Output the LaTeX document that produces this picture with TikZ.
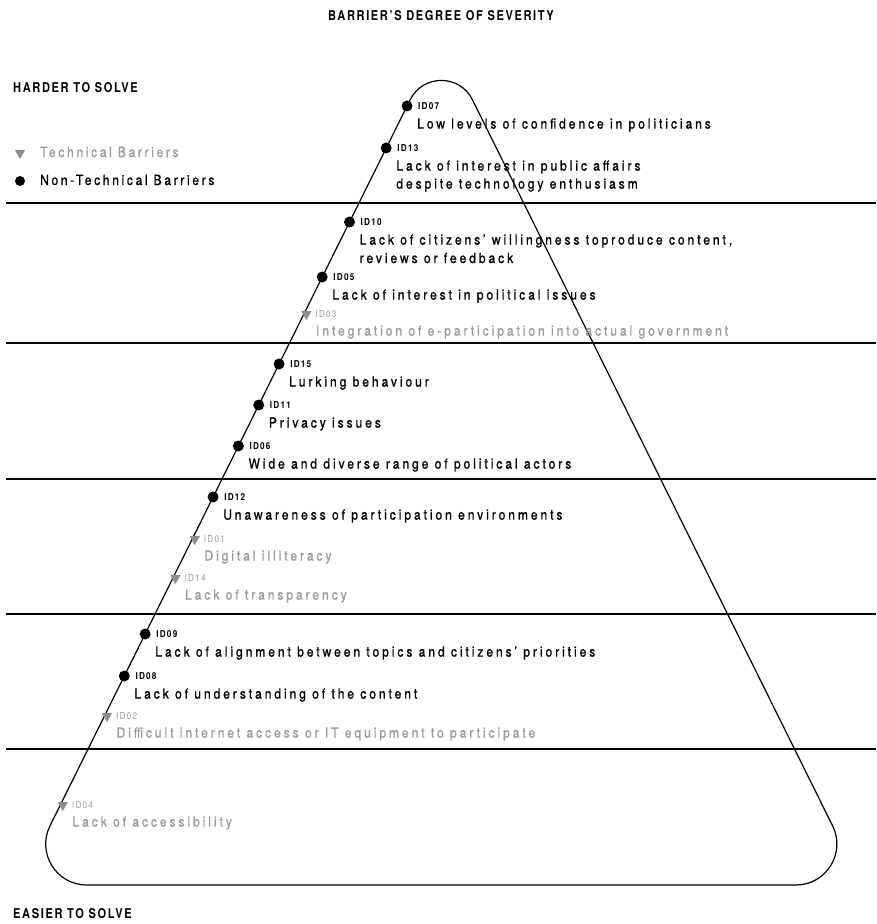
\documentclass[tikz,border=0pt]{standalone}
\usepackage{fontspec}
\usetikzlibrary{shapes.geometric}
\newfontfamily\cond{TeX Gyre Heros}[FakeStretch=0.86,LetterSpace=21,FakeBold=1.0]
\newfontfamily\condl{TeX Gyre Heros}[FakeStretch=0.86,LetterSpace=19,FakeBold=0.8]
\newfontfamily\condb{TeX Gyre Heros}[FakeStretch=0.82,LetterSpace=12]
\newfontfamily\condi{TeX Gyre Heros}[FakeStretch=0.86,LetterSpace=13]
\definecolor{tgray}{HTML}{9A9A9A}
\definecolor{mgray}{HTML}{8E8E8E}
\begin{document}
\begin{tikzpicture}[x=1pt,y=-1pt,
  outline/.style={draw=black,line width=1.2pt,line join=round},
  band/.style={draw=black,line width=1.3pt},
  ndot/.style={circle,fill=black,inner sep=0pt,minimum size=11pt},
  tmark/.style={regular polygon,regular polygon sides=3,shape border rotate=180,fill=mgray,inner sep=0pt,minimum size=12pt},
  idlab/.style={anchor=west,inner sep=0pt,font=\condi\bfseries\fontsize{9.5}{10}\selectfont},
  desc/.style={anchor=west,inner sep=0pt,font=\cond\fontsize{14}{16}\selectfont},
  head/.style={inner sep=0pt,font=\condb\bfseries\fontsize{13.5}{15}\selectfont},
  leg/.style={anchor=west,inner sep=0pt,font=\condl\fontsize{14}{16}\selectfont}
]
\useasboundingbox (0,0) rectangle (876,924);

% horizontal bands
\foreach \yy in {203,343,479,614,749} \draw[band] (6,\yy) -- (876,\yy);

% rounded triangle
\draw[outline] (50.0,825.8) -- (410.2,99.7)
  .. controls (423.0,74.0) and (459.6,74.0) .. (472.4,99.7)
  -- (832.6,825.8)
  .. controls (846.1,853.0) and (826.3,885) .. (795.9,885)
  -- (86.7,885)
  .. controls (56.3,885) and (36.5,853.0) .. cycle;

% headings
\node[head] (title) at (441,16) {BARRIER’S DEGREE OF SEVERITY};
\node[head,anchor=west] (harder) at (13,88) {HARDER TO SOLVE};
\node[head,anchor=west] (easier) at (13,914) {EASIER TO SOLVE};

% legend
\node[tmark] (legt) at (20,153) {};
\node[leg,text=tgray] (legtt) at (40,152) {Technical Barriers};
\node[ndot,minimum size=10pt] (legn) at (20,181) {};
\node[leg] (legnt) at (40,180) {Non-Technical Barriers};

% barriers
\foreach \n/\yy/\kind/\txt in {
  07/106/n/{Low levels of confidence in politicians},
  13/148/n/{Lack of interest in public affairs},
  10/222/n/{Lack of citizens’ willingness toproduce content,},
  05/277/n/{Lack of interest in political issues},
  03/314/t/{Integration of e-participation into actual government},
  15/364/n/{Lurking behaviour},
  11/405/n/{Privacy issues},
  06/446/n/{Wide and diverse range of political actors},
  12/497/n/{Unawareness of participation environments},
  01/539/t/{Digital illiteracy},
  14/578/t/{Lack of transparency},
  09/634/n/{Lack of alignment between topics and citizens’ priorities},
  08/676/n/{Lack of understanding of the content},
  02/716/t/{Difficult internet access or IT equipment to participate},
  04/805/t/{Lack of accessibility}}
{
  \pgfmathsetmacro\xx{459.6-0.496*\yy}
  \if\kind n
    \node[ndot] (m\n) at (\xx,\yy) {};
    \node[idlab] (id\n) at (\xx+11,\yy) {ID\n};
    \node[desc] (d\n) at (\xx+10,\yy+19) {\txt};
  \else
    \node[tmark] (m\n) at (\xx+2.5,\yy) {};
    \node[idlab,text=tgray,font=\condi\fontsize{9.5}{10}\selectfont] (id\n) at (\xx+11.5,\yy) {ID\n};
    \node[desc,text=tgray] (d\n) at (\xx+12,\yy+18) {\txt};
  \fi
}
\node[desc] (d13b) at (d13.west |- 0,185) [anchor=west] {despite technology enthusiasm};
\node[desc] (d10b) at (d10.west |- 0,258) [anchor=west] {reviews or feedback};
\end{tikzpicture}
\end{document}
